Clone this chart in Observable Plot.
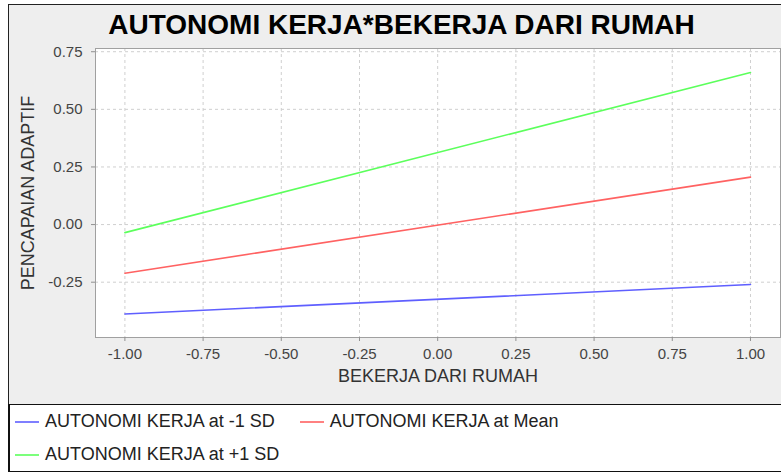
<!DOCTYPE html>
<html>
<head>
<meta charset="utf-8">
<script src="https://cdn.jsdelivr.net/npm/d3@7"></script>
<script src="https://cdn.jsdelivr.net/npm/@observablehq/plot@0.6"></script>
<style>
  html, body { margin: 0; padding: 0; background: #ffffff; width: 781px; height: 475px; overflow: hidden; }
  body { position: relative; font-family: "Liberation Sans", Arial, sans-serif; }
  #panel { position: absolute; left: 8px; top: 4px; width: 786px; height: 400px; box-sizing: border-box;
           border-left: 1px solid #222; border-top: 1px solid #222; background: #eeeeee; }
  #title { height: 33px; line-height: 39px; text-align: center; font-weight: bold; font-size: 28px; color: #000; white-space: nowrap; overflow: visible; }
  #chart svg { display: block; }
  #legend { position: absolute; left: 8px; top: 404px; width: 786px; height: 68px; box-sizing: border-box;
            border: 1px solid #111; border-left: 2px solid #111; background: #ffffff;
            display: flex; flex-wrap: wrap; align-content: flex-start; padding-left: 5px; }
  .item { display: flex; align-items: center; height: 33px; margin-right: 25px; font-size: 18px; color: #222; white-space: nowrap; }
  .item svg { margin-right: 6px; }
</style>
</head>
<body>
<div id="panel">
  <div id="title"></div>
  <div id="chart"></div>
</div>
<div id="legend"></div>
<script>
const chartTitle = "AUTONOMI KERJA*BEKERJA DARI RUMAH";
const xLabel = "BEKERJA DARI RUMAH";
const yLabel = "PENCAPAIAN ADAPTIF";
const seriesNames = ["AUTONOMI KERJA at -1 SD", "AUTONOMI KERJA at Mean", "AUTONOMI KERJA at +1 SD"];
const seriesColors = ["#5f5fff", "#ff6262", "#5cff5c"];
const xValues = [-1, 1];
const lowValues = [-0.388, -0.260];
const meanValues = [-0.211, 0.206];
const highValues = [-0.035, 0.660];
const xTicks = [-1, -0.75, -0.5, -0.25, 0, 0.25, 0.5, 0.75, 1];
const yTicks = [-0.25, 0, 0.25, 0.5, 0.75];

const seriesValues = [lowValues, meanValues, highValues];
const rows = seriesNames.flatMap((s, i) => xValues.map((x, j) => ({series: s, x, y: seriesValues[i][j]})));

document.getElementById("title").textContent = chartTitle;

const fmt = d => d.toFixed(2);
const plot = Plot.plot({
  width: 785,
  height: 366,
  marginLeft: 86,
  marginRight: 14,
  marginTop: 10,
  marginBottom: 67,
  style: {background: "transparent", fontFamily: "'Liberation Sans', Arial, sans-serif", fontSize: "15px", overflow: "visible"},
  x: {domain: [-1.094, 1.096]},
  y: {domain: [-0.490, 0.764]},
  color: {domain: seriesNames, range: seriesColors},
  marks: [
    Plot.frame({fill: "#ffffff", stroke: null}),
    Plot.ruleX(xTicks, {stroke: "#cfcfcf", strokeDasharray: "3,3"}),
    Plot.ruleY(yTicks, {stroke: "#cfcfcf", strokeDasharray: "3,3"}),
    Plot.frame({stroke: "#a0a0a0"}),
    Plot.axisX({ticks: xTicks, tickFormat: fmt, tickSize: 4, tickPadding: 7, stroke: "#909090", fill: "#444444", label: null}),
    Plot.axisY({ticks: yTicks, tickFormat: fmt, tickSize: 4, tickPadding: 9, stroke: "#909090", fill: "#444444", label: null}),
    Plot.line(rows, {x: "x", y: "y", z: "series", stroke: "series", strokeWidth: 1.6}),
    Plot.text([xLabel], {text: d => d, frameAnchor: "bottom", dy: 44, fontSize: 18, fill: "#333333"}),
    Plot.text([yLabel], {text: d => d, frameAnchor: "left", textAnchor: "middle", dx: -67, rotate: -90, fontSize: 18, fill: "#333333"})
  ]
});
document.getElementById("chart").appendChild(plot);

const legend = document.getElementById("legend");
seriesNames.forEach((name, i) => {
  const item = document.createElement("div");
  item.className = "item";
  item.innerHTML = `<svg width="24" height="4"><line x1="0" x2="24" y1="2" y2="2" stroke="${seriesColors[i]}" stroke-width="1.6"/></svg>`;
  const span = document.createElement("span");
  span.textContent = name;
  item.appendChild(span);
  legend.appendChild(item);
});
</script>
</body>
</html>
